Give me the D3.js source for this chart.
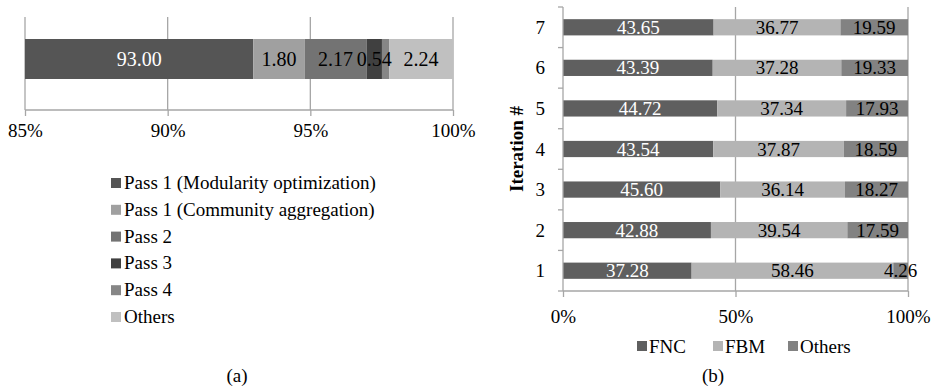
<!DOCTYPE html>
<html>
<head>
<meta charset="utf-8">
<script src="https://cdn.jsdelivr.net/npm/d3@7"></script>
<style>
  html, body { margin: 0; padding: 0; background: #fff; }
  svg { display: block; }
  svg text { font-family: "Liberation Serif", "DejaVu Serif", serif; }
</style>
</head>
<body>
<svg id="chart" width="938" height="387"></svg>
<script>
// (a) share of run time per Louvain pass (%)
const passNames = ["Pass 1 (Modularity optimization)", "Pass 1 (Community aggregation)", "Pass 2", "Pass 3", "Pass 4", "Others"];
const passValues = [93.00, 1.80, 2.17, 0.54, 0.25, 2.24];
const passLabels = ["93.00", "1.80", "2.17", "0.54", "", "2.24"];
const passColors = ["#555555", "#a0a0a0", "#737373", "#404040", "#868686", "#c0c0c0"];
const passTicks = [85, 90, 95, 100];

// (b) breakdown per iteration (%)
const iterations = ["1", "2", "3", "4", "5", "6", "7"];
const phaseNames = ["FNC", "FBM", "Others"];
const fncValues = [37.28, 42.88, 45.60, 43.54, 44.72, 43.39, 43.65];
const fbmValues = [58.46, 39.54, 36.14, 37.87, 37.34, 37.28, 36.77];
const otherValues = [4.26, 17.59, 18.27, 18.59, 17.93, 19.33, 19.59];
const phaseColors = ["#5f5f5f", "#b4b4b4", "#828282"];
const phaseTextColors = ["#ffffff", "#000000", "#000000"];
const iterTicks = [0, 50, 100];

const svg = d3.select("#chart");
const gridColor = "#a6a6a6";
const fontSize = 19;

// ---------- (a) ----------
{
  const x = d3.scaleLinear().domain([85, 100]).range([25, 453]).clamp(true);
  const top = 17, bottom = 110, barY = 39, barH = 40;
  const g = svg.append("g");

  // vertical gridlines
  g.selectAll("line.grid").data(passTicks).join("line")
    .attr("x1", d => x(d)).attr("x2", d => x(d))
    .attr("y1", top).attr("y2", bottom)
    .attr("stroke", gridColor).attr("stroke-width", 1.3);

  // stacked segments
  const starts = passValues.map((v, i) => d3.sum(passValues.slice(0, i)));
  const segs = passValues.map((v, i) => ({ v, s: starts[i], e: starts[i] + v, i }));
  g.selectAll("rect.seg").data(segs).join("rect")
    .attr("x", d => x(d.s)).attr("width", d => x(d.e) - x(d.s))
    .attr("y", barY).attr("height", barH)
    .attr("fill", d => passColors[d.i]);
  g.selectAll("text.val").data(segs).join("text")
    .attr("x", d => (x(d.s) + x(d.e)) / 2)
    .attr("y", barY + barH / 2 + 6.5)
    .attr("text-anchor", "middle")
    .attr("font-size", 20)
    .attr("fill", d => d.i === 0 ? "#ffffff" : "#000000")
    .text(d => passLabels[d.i]);

  // bottom axis
  const axis = d3.axisBottom(x).tickValues(passTicks).tickSize(6).tickFormat(d => d + "%");
  const ax = g.append("g").attr("transform", `translate(0,${bottom})`).call(axis);
  ax.attr("font-family", null);
  ax.select(".domain").attr("stroke", gridColor).attr("stroke-width", 1.3).attr("d", `M${x(85)},0H${x(100)}`);
  ax.selectAll(".tick line").attr("stroke", gridColor).attr("stroke-width", 1.3);
  ax.selectAll(".tick text").attr("font-size", fontSize)
    .attr("fill", "#000").attr("dy", null).attr("y", 27);

  // legend
  const leg = g.append("g").attr("transform", "translate(111,0)");
  passNames.forEach((name, i) => {
    const cy = 183 + i * 26.8;
    leg.append("rect").attr("x", 0).attr("y", cy - 5).attr("width", 10).attr("height", 10).attr("fill", passColors[i]);
    leg.append("text").attr("x", 13).attr("y", cy + 6).attr("font-size", fontSize).attr("fill", "#000").text(name);
  });

  svg.append("text").attr("x", 237).attr("y", 382).attr("text-anchor", "middle")
    .attr("font-size", fontSize).attr("fill", "#000").text("(a)");
}

// ---------- (b) ----------
{
  const x = d3.scaleLinear().domain([0, 100]).range([563, 908]);
  const y = d3.scaleBand().domain(iterations.slice().reverse()).range([7, 291])
    .paddingInner(0.6).paddingOuter(0.3);
  const g = svg.append("g");

  g.selectAll("line.grid").data([50, 100]).join("line")
    .attr("x1", d => x(d)).attr("x2", d => x(d))
    .attr("y1", 7).attr("y2", 291)
    .attr("stroke", gridColor).attr("stroke-width", 1.3);

  const rows = iterations.map((it, i) => ({ it, fnc: fncValues[i], fbm: fbmValues[i], oth: otherValues[i] }));
  const stack = d3.stack().keys(["fnc", "fbm", "oth"]);
  const series = stack(rows);

  series.forEach((s, k) => {
    g.selectAll(`rect.s${k}`).data(s).join("rect")
      .attr("x", d => x(d[0])).attr("width", d => x(d[1]) - x(d[0]))
      .attr("y", d => y(d.data.it)).attr("height", y.bandwidth())
      .attr("fill", phaseColors[k]);
  });
  series.forEach((s, k) => {
    g.selectAll(`text.s${k}`).data(s).join("text")
      .attr("x", d => (x(d[0]) + x(d[1])) / 2)
      .attr("y", d => y(d.data.it) + y.bandwidth() / 2 + 6.5)
      .attr("text-anchor", "middle")
      .attr("font-size", fontSize)
      .attr("fill", phaseTextColors[k])
      .text(d => (d[1] - d[0]).toFixed(2));
  });

  // x axis
  const xa = g.append("g").attr("transform", "translate(0,291)")
    .call(d3.axisBottom(x).tickValues(iterTicks).tickSize(6).tickFormat(d => d + "%"));
  xa.attr("font-family", null);
  xa.select(".domain").attr("stroke", gridColor).attr("stroke-width", 1.3).attr("d", `M${x(0)},0H${x(100)}`);
  xa.selectAll(".tick line").attr("stroke", gridColor).attr("stroke-width", 1.3);
  xa.selectAll(".tick text").attr("font-size", fontSize)
    .attr("fill", "#000").attr("dy", null).attr("y", 32);

  // y axis: ticks between categories
  const ya = g.append("g").attr("transform", `translate(${x(0)},0)`);
  const bounds = d3.range(iterations.length + 1).map(i => 7 + i * y.step());
  ya.append("line").attr("x1", 0).attr("x2", 0).attr("y1", 7).attr("y2", 291)
    .attr("stroke", gridColor).attr("stroke-width", 1.3);
  ya.selectAll("line.t").data(bounds).join("line")
    .attr("x1", -5).attr("x2", 0).attr("y1", d => d).attr("y2", d => d)
    .attr("stroke", gridColor).attr("stroke-width", 1.3);
  ya.selectAll("text.lab").data(iterations).join("text")
    .attr("x", -18).attr("y", d => y(d) + y.bandwidth() / 2 + 6.5)
    .attr("text-anchor", "end").attr("font-size", fontSize).attr("fill", "#000").text(d => d);

  svg.append("text").attr("transform", "translate(523,149) rotate(-90)")
    .attr("text-anchor", "middle").attr("font-size", fontSize).attr("font-weight", "bold")
    .attr("fill", "#000").text("Iteration #");

  // legend
  const legX = [637, 713, 788];
  phaseNames.forEach((name, i) => {
    svg.append("rect").attr("x", legX[i]).attr("y", 341).attr("width", 10).attr("height", 10).attr("fill", phaseColors[i]);
    svg.append("text").attr("x", legX[i] + 12).attr("y", 352.5).attr("font-size", fontSize).attr("fill", "#000").text(name);
  });

  svg.append("text").attr("x", 713).attr("y", 382).attr("text-anchor", "middle")
    .attr("font-size", fontSize).attr("fill", "#000").text("(b)");
}
</script>
</body>
</html>
